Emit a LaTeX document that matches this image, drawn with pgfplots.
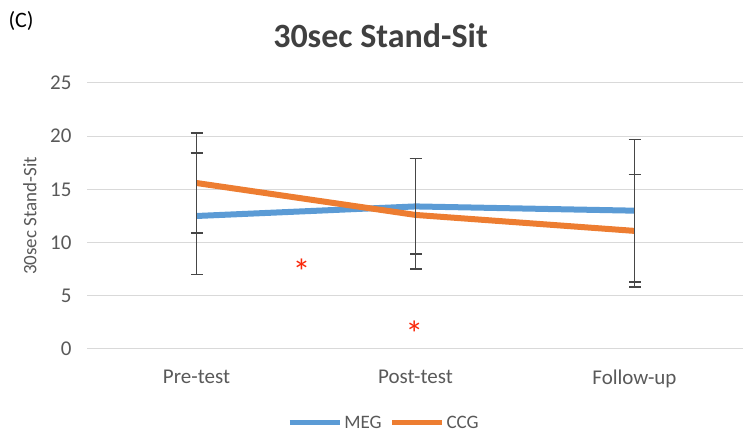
\documentclass[border=0pt]{standalone}
\usepackage{pgfplots}
\pgfplotsset{compat=1.18}
\usepackage{fontspec}
\setmainfont{Carlito}
\definecolor{megblue}{RGB}{91,155,213}
\definecolor{ccgorange}{RGB}{237,125,49}
\definecolor{tickgray}{RGB}{89,89,89}
\definecolor{titlegray}{RGB}{64,64,64}
\definecolor{gridgray}{RGB}{217,217,217}
\definecolor{errgray}{RGB}{70,70,70}
\definecolor{starred}{RGB}{250,40,10}
\begin{document}
\begin{tikzpicture}
\path[use as bounding box] (0pt,0pt) rectangle (743pt,433pt);
\node[anchor=west, font=\fontsize{22}{22}\selectfont, text=black] at (5pt,412pt) {(C)};
\begin{axis}[
 at={(87pt,84pt)}, anchor=south west,
 scale only axis, width=657pt, height=266pt,
 xmin=-0.5, xmax=2.5, ymin=0, ymax=25,
 ytick={0,5,...,25}, xtick={0,1,2}, xticklabels={Pre-test,Post-test,Follow-up},
 ymajorgrids, major grid style={gridgray, line width=1pt},
 axis line style={draw=none}, major tick length=0pt,
 tick label style={font=\fontsize{21}{21}\selectfont, text=tickgray},
 /pgf/number format/assume math mode=true,
 yticklabel style={xshift=-12pt},
 xticklabel style={yshift=-17pt},
 title={30sec Stand-Sit},
 title style={font=\bfseries\fontsize{34}{34}\selectfont, text=titlegray, at={(0.5,1)}, anchor=center, yshift=41pt, xshift=-35pt},
 ylabel={30sec Stand-Sit},
 ylabel style={font=\fontsize{19}{19}\selectfont, text=tickgray, at={(axis description cs:-0.087,0.5)}, anchor=center},
 legend style={at={(axis description cs:0.452,-0.278)}, anchor=center, draw=none, fill=none, legend columns=2, font=\fontsize{19}{19}\selectfont, text=tickgray, /tikz/every even column/.append style={column sep=6pt}},
 legend image code/.code={\draw[#1, line width=5pt] (0pt,0pt) -- (50pt,0pt);},
 clip=false,
]
\addplot[megblue, line width=6pt, mark=none,
  error bars/.cd, y dir=both, y explicit,
  error bar style={errgray, line width=1.7pt},
  error mark options={errgray, line width=1.7pt, mark size=6pt, rotate=90}]
 table[x=x, y=y, y error plus=ep, y error minus=em] {
 x y ep em
 0 12.5 5.9 5.5
 1 13.4 4.5 4.5
 2 13.0 6.7 6.7
 };
\addlegendentry{MEG}
\addplot[ccgorange, line width=6pt, mark=none,
  error bars/.cd, y dir=both, y explicit,
  error bar style={errgray, line width=1.7pt},
  error mark options={errgray, line width=1.7pt, mark size=6pt, rotate=90}]
 table[x=x, y=y, y error plus=ep, y error minus=em] {
 x y ep em
 0 15.6 4.7 4.7
 1 12.6 5.3 5.1
 2 11.1 5.3 5.25
 };
\addlegendentry{CCG}
\node[text=starred, font=\fontsize{36}{36}\selectfont] at (axis cs:0.48,7.3) {*};
\node[text=starred, font=\fontsize{36}{36}\selectfont] at (axis cs:0.995,1.4) {*};
\end{axis}
\end{tikzpicture}
\end{document}
